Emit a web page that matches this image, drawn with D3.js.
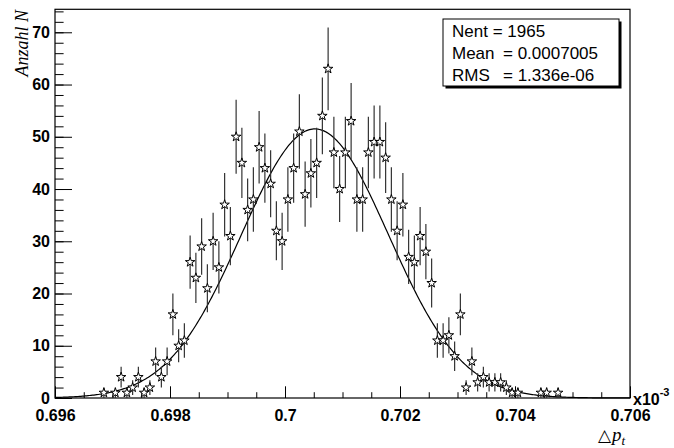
<!DOCTYPE html>
<html>
<head>
<meta charset="utf-8">
<script src="https://cdn.jsdelivr.net/npm/d3@7"></script>
<style>
  body { margin: 0; background: #fff; }
  svg { display: block; }
  .tick text { font: bold 16px "Liberation Sans", Arial, Helvetica, sans-serif; fill: #000; }
  .tick line { stroke: #000; }
</style>
</head>
<body>
<div id="chart"></div>
<script>
// histogram of delta p_t, 100 bins between 0.696 and 0.706 (x10^-3)
const xMin = 0.696, xMax = 0.706, nBins = 100;

const counts = [
  0, 0, 0, 0, 0, 0, 0, 0, 1, 0,
  1, 4, 1, 2, 4, 1, 2, 7, 4, 7,
  16, 10, 11, 26, 23, 29, 21, 30, 25, 37,
  31, 50, 45, 36, 38, 48, 44, 41, 32, 30,
  38, 44, 51, 39, 43, 45, 54, 63, 47, 40,
  47, 53, 38, 38, 47, 49, 49, 46, 38, 32,
  37, 27, 26, 31, 28, 22, 11, 11, 12, 8,
  16, 2, 7, 3, 4, 3, 3, 3, 2, 1,
  1, 0, 0, 0, 1, 1, 0, 1, 0, 0,
  0, 0, 0, 0, 0, 0, 0, 0, 0, 0
];

// gaussian fit: constant, mean, sigma
const fitConst = 51.5, fitMean = 0.70052, fitSigma = 0.00128;

const xTickValues = [0.696, 0.698, 0.7, 0.702, 0.704, 0.706];
const xTickLabels = ["0.696", "0.698", "0.7", "0.702", "0.704", "0.706"];
const yTickValues = [0, 10, 20, 30, 40, 50, 60, 70];
const yTickLabels = ["0", "10", "20", "30", "40", "50", "60", "70"];

const statNames = ["Mean", "RMS"];
const statValues = ["= 0.0007005", "= 1.336e-06"];
const nEntries = 1965;

const width = 674, height = 448,
    margin = ({ top: 9.3, right: 44, bottom: 50, left: 55 });

const svg = d3.select("#chart")
  .append("svg")
  .attr("width", width)
  .attr("height", height);

const x = d3.scaleLinear()
  .domain([xMin, xMax])
  .range([margin.left, width - margin.right]);

const y = d3.scaleLinear()
  .domain([0, 74.4])
  .range([height - margin.bottom, margin.top]);

const binW = (xMax - xMin) / nBins;
const data = counts.map((c, i) => ({ x: xMin + binW * (i + 0.5), n: c }))
  .filter(d => d.n > 0);

// minor ticks
const xMinor = d3.range(0, 21).map(i => xMin + i * 0.0005);
const yMinor = d3.range(0, 38).map(i => i * 2);

svg.append("g")
  .attr("transform", `translate(0,${height - margin.bottom})`)
  .call(d3.axisBottom(x).tickValues(xMinor).tickSize(-5.8).tickFormat(""))
  .call(g => g.select(".domain").remove());

svg.append("g")
  .attr("transform", `translate(0,${height - margin.bottom})`)
  .call(d3.axisBottom(x).tickValues(xTickValues).tickSize(-11.7).tickPadding(12)
    .tickFormat((d, i) => xTickLabels[i]))
  .call(g => g.select(".domain").remove());

svg.append("g")
  .attr("transform", `translate(${margin.left},0)`)
  .call(d3.axisLeft(y).tickValues(yMinor.filter(v => v <= 74)).tickSize(-8.6).tickFormat(""))
  .call(g => g.select(".domain").remove());

svg.append("g")
  .attr("transform", `translate(${margin.left},0)`)
  .call(d3.axisLeft(y).tickValues(yTickValues).tickSize(-17).tickPadding(5)
    .tickFormat((d, i) => yTickLabels[i]))
  .call(g => g.select(".domain").remove());

// frame
svg.append("rect")
  .attr("x", margin.left)
  .attr("y", margin.top)
  .attr("width", width - margin.left - margin.right)
  .attr("height", height - margin.top - margin.bottom)
  .attr("fill", "none")
  .attr("stroke", "#000")
  .attr("stroke-width", 1.2);

// fit curve
const fitPts = d3.range(0, 401).map(i => xMin + i * (xMax - xMin) / 400);
const line = d3.line()
  .x(d => x(d))
  .y(d => y(fitConst * Math.exp(-0.5 * ((d - fitMean) / fitSigma) ** 2)));

svg.append("path")
  .datum(fitPts)
  .attr("d", line)
  .attr("fill", "none")
  .attr("stroke", "#000")
  .attr("stroke-width", 1.2);

// error bars (sqrt N)
svg.append("g")
  .selectAll("line")
  .data(data)
  .join("line")
    .attr("x1", d => x(d.x))
    .attr("x2", d => x(d.x))
    .attr("y1", d => y(d.n - Math.sqrt(d.n)))
    .attr("y2", d => y(d.n + Math.sqrt(d.n)))
    .attr("stroke", "#333")
    .attr("stroke-width", 1.2);

// open star markers
svg.append("g")
  .selectAll("path")
  .data(data)
  .join("path")
    .attr("transform", d => `translate(${x(d.x)},${y(d.n)})`)
    .attr("d", d3.symbol(d3.symbolStar, 28))
    .attr("fill", "#fff")
    .attr("stroke", "#000")
    .attr("stroke-width", 1);

// axis titles
svg.append("text")
  .attr("transform", "translate(28,10) rotate(-90)")
  .attr("text-anchor", "end")
  .style("font", "italic 18px 'Liberation Serif', 'Times New Roman', serif")
  .text("Anzahl N");

const xt = svg.append("text")
  .attr("x", 598)
  .attr("y", 441)
  .style("font", "italic 19px 'Liberation Serif', 'Times New Roman', serif");
xt.append("tspan").style("font-style", "normal").style("font-family", "'DejaVu Sans'")
  .style("font-size", "17px").text("\u25B3");
xt.append("tspan").attr("dx", 1).text("p");
xt.append("tspan").attr("dy", 4).style("font-size", "13px").text("t");

const ex = svg.append("text")
  .attr("x", 633)
  .attr("y", 405)
  .style("font", "bold 16px 'Liberation Sans', Arial, sans-serif");
ex.append("tspan").text("x10");
ex.append("tspan").attr("dy", -9).style("font-size", "11px").text("-3");

// stats box
const box = { x: 443, y: 19, w: 176, h: 67 };
svg.append("rect")
  .attr("x", box.x + 2.5).attr("y", box.y + 2.5)
  .attr("width", box.w).attr("height", box.h)
  .attr("fill", "#000");
svg.append("rect")
  .attr("x", box.x).attr("y", box.y)
  .attr("width", box.w).attr("height", box.h)
  .attr("fill", "#fff")
  .attr("stroke", "#000");

const statFont = "17px 'Liberation Sans', Arial, sans-serif";
svg.append("text")
  .attr("x", 452).attr("y", 37)
  .style("font", statFont)
  .text(`Nent = ${nEntries}`);
statNames.forEach((s, i) => {
  svg.append("text")
    .attr("x", 452).attr("y", 59 + i * 21.5)
    .style("font", statFont)
    .text(s);
  svg.append("text")
    .attr("x", 503).attr("y", 59 + i * 21.5)
    .style("font", statFont)
    .text(statValues[i]);
});
</script>
</body>
</html>
